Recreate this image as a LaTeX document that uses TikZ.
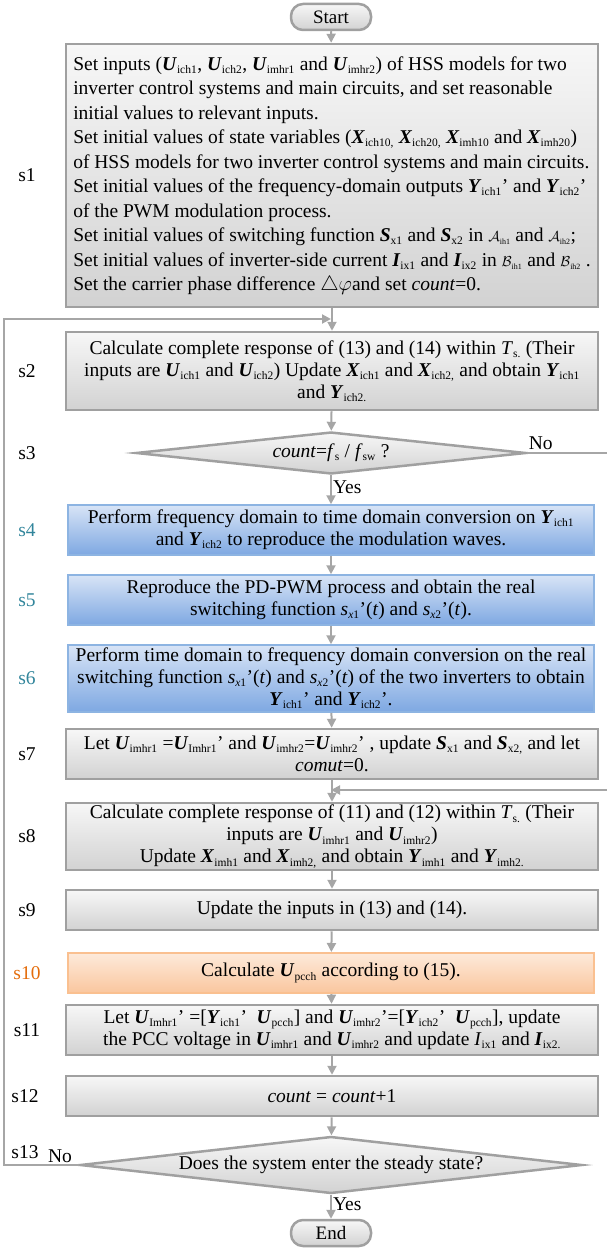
\documentclass[tikz,border=0pt]{standalone}
\usepackage{fontspec}
\setmainfont{Liberation Serif}
\usetikzlibrary{shapes.geometric, arrows.meta, positioning}
\definecolor{cLine}{RGB}{166,166,166}
\definecolor{cBorder}{RGB}{160,160,160}
\definecolor{cTop}{RGB}{247,247,247}
\definecolor{cBot}{RGB}{210,210,210}
\definecolor{cBlueD}{RGB}{141,180,226}
\definecolor{cBlueT}{RGB}{216,228,246}
\definecolor{cBlueB}{RGB}{126,168,226}
\definecolor{cOrD}{RGB}{250,192,144}
\definecolor{cOrT}{RGB}{253,234,218}
\definecolor{cOrB}{RGB}{250,198,158}
\definecolor{cTeal}{RGB}{49,133,155}
\definecolor{cOrange}{RGB}{228,108,10}

% variables with small upright subscripts
\newcommand\sbs[1]{\ensuremath{_{\mbox{\fontsize{11.5}{12}\selectfont #1}}}}
\newcommand\bvar[2]{\textbf{\textit{#1}}\sbs{#2}}
\newcommand\ivar[2]{\textit{#1}\sbs{#2}}
\newcommand\cvar[2]{{\fontsize{14}{14}\selectfont$\mathcal{#1}$}\ensuremath{_{\mbox{\fontsize{8}{8}\selectfont #2}}}}

\tikzset{
  stepbox/.style={draw=cBorder, line width=2.5pt, top color=cTop, bottom color=cBot, minimum width=532pt, inner sep=1pt, align=center, font=\fontsize{19.5}{22}\selectfont},
  bluebox/.style={draw=cBlueD, line width=1.5pt, top color=cBlueT, bottom color=cBlueB, minimum width=526pt, inner sep=1pt, align=center, font=\fontsize{19.5}{22}\selectfont},
  orangebox/.style={draw=cOrD, line width=2pt, top color=cOrT, bottom color=cOrB, minimum width=526pt, inner sep=1pt, align=center, font=\fontsize{19.5}{22}\selectfont},
  terminal/.style={draw=cBorder, line width=2.5pt, rounded corners=12pt, top color=cTop, bottom color=cBot, minimum width=80pt, minimum height=26pt, inner sep=0pt, font=\fontsize{19}{20}\selectfont},
  decision/.style={diamond, aspect=10, draw=cBorder, line width=2.5pt, top color=cTop, bottom color=cBot, inner sep=0pt, text height=9pt, text depth=0pt, font=\fontsize{19.5}{20}\selectfont},
  steplabel/.style={font=\fontsize{19.5}{20}\selectfont},
  flow/.style={draw=cLine, line width=2pt, -{Triangle[length=9pt,width=9pt]}}
}

\begin{document}
\begin{tikzpicture}[x=1pt, y=-1pt]
    \useasboundingbox (0,0) rectangle (607,1249);

    % Terminals
    \node[terminal] (start) at (331,17) {Start};
    \node[terminal] (end) at (331,1233) {End};

    % s1 block
    \node[stepbox, minimum height=263pt, align=left, font=\fontsize{19.5}{24.5}\selectfont] (s1) at (332,175.5) {%
      Set inputs (\bvar{U}{ich1}, \bvar{U}{ich2}, \bvar{U}{imhr1} and \bvar{U}{imhr2}) of HSS models for two\\
      inverter control systems and main circuits, and set reasonable\\
      initial values to relevant inputs.\\
      Set initial values of state variables (\bvar{X}{ich10,} \bvar{X}{ich20,} \bvar{X}{imh10} and \bvar{X}{imh20})\\
      of HSS models for two inverter control systems and main circuits.\\
      Set initial values of the frequency-domain outputs \bvar{Y}{ich1}’ and \bvar{Y}{ich2}’\\
      of the PWM modulation process.\\
      Set initial values of switching function \bvar{S}{x1} and \bvar{S}{x2} in \cvar{A}{ih1} and \cvar{A}{ih2};\\
      Set initial values of inverter-side current \bvar{I}{ix1} and \bvar{I}{ix2} in \cvar{B}{ih1} and \cvar{B}{ih2} .\\
      Set the carrier phase difference $\triangle\varphi$and set \textit{count}=0.};

    % s2 -- s12 blocks
    \node[stepbox, minimum height=78pt] (s2) at (332,371) {Calculate complete response of (13) and (14) within \ivar{T}{s.} (Their\\
      inputs are \bvar{U}{ich1} and \bvar{U}{ich2}) Update \bvar{X}{ich1} and \bvar{X}{ich2,} and obtain \bvar{Y}{ich1}\\
      and \bvar{Y}{ich2.}};
    \node[decision, minimum width=390pt, minimum height=42pt] (s3) at (331,453) {\textit{count}=\ivar{f}{s} / \ivar{f}{sw} ?};
    \node[bluebox, minimum height=50pt] (s4) at (331,530) {Perform frequency domain to time domain conversion on \bvar{Y}{ich1}\\
      and \bvar{Y}{ich2} to reproduce the modulation waves.};
    \node[bluebox, minimum height=50pt] (s5) at (331,600) {Reproduce the PD-PWM process and obtain the real\\
      switching function \textit{s}\sbs{\textit{x}1}’(\textit{t}) and \textit{s}\sbs{\textit{x}2}’(\textit{t}).};
    \node[bluebox, minimum height=67pt] (s6) at (331,678.5) {Perform time domain to frequency domain conversion on the real\\
      switching function \textit{s}\sbs{\textit{x}1}’(\textit{t}) and \textit{s}\sbs{\textit{x}2}’(\textit{t}) of the two inverters to obtain\\
      \bvar{Y}{ich1}’ and \bvar{Y}{ich2}’.};
    \node[stepbox, minimum height=50pt] (s7) at (332,754) {Let \bvar{U}{imhr1} =\bvar{U}{Imhr1}’ and \bvar{U}{imhr2}=\bvar{U}{imhr2}’ , update \bvar{S}{x1} and \bvar{S}{x2,} and let\\
      \textit{comut}=0.};
    \node[stepbox, minimum height=67pt] (s8) at (332,836.5) {Calculate complete response of (11) and (12) within \ivar{T}{s.} (Their\\
      inputs are \bvar{U}{imhr1} and \bvar{U}{imhr2})\\
      Update \bvar{X}{imh1} and \bvar{X}{imh2,} and obtain \bvar{Y}{imh1} and \bvar{Y}{imh2.}};
    \node[stepbox, minimum height=40pt] (s9) at (332,910) {Update the inputs in (13) and (14).};
    \node[orangebox, minimum height=40pt] (s10) at (331,973) {Calculate \bvar{U}{pcch} according to (15).};
    \node[stepbox, minimum height=50pt] (s11) at (332,1030) {Let \bvar{U}{Imhr1}’ =[\bvar{Y}{ich1}’~ \bvar{U}{pcch}] and \bvar{U}{imhr2}’=[\bvar{Y}{ich2}’~ \bvar{U}{pcch}], update\\
      the PCC voltage in \bvar{U}{imhr1} and \bvar{U}{imhr2} and update \ivar{I}{ix1} and \bvar{I}{ix2.}};
    \node[stepbox, minimum height=40pt] (s12) at (332,1096) {\textit{count} = \textit{count}+1};
    \node[decision, minimum width=502pt, minimum height=57pt] (s13) at (331,1165) {Does the system enter the steady state?};

    % Step labels
    \node[steplabel] (l1) at (27,175) {s1};
    \node[steplabel] (l2) at (27,371) {s2};
    \node[steplabel] (l3) at (27,453) {s3};
    \node[steplabel, text=cTeal] (l4) at (27,530) {s4};
    \node[steplabel, text=cTeal] (l5) at (27,600) {s5};
    \node[steplabel, text=cTeal] (l6) at (27,678) {s6};
    \node[steplabel] (l7) at (27,754) {s7};
    \node[steplabel] (l8) at (27,836) {s8};
    \node[steplabel] (l9) at (27,910) {s9};
    \node[steplabel, text=cOrange] (l10) at (27,973) {s10};
    \node[steplabel] (l11) at (27,1030) {s11};
    \node[steplabel] (l12) at (25,1096) {s12};
    \node[steplabel] (l13) at (25,1152) {s13};

    % Joints for the feedback loops
    \coordinate (joinA) at (331,319);
    \coordinate (joinB) at (331,790);

    % Main flow
    \draw[flow] (start) -- (s1);
    \draw[flow] (s1) -- (s2);
    \draw[flow] (s2) -- (s3);
    \draw[flow] (s3) -- node[right, steplabel, pos=0.4, inner sep=1pt] (yes1) {Yes} (s4);
    \draw[flow] (s4) -- (s5);
    \draw[flow] (s5) -- (s6);
    \draw[flow] (s6) -- (s7);
    \draw[flow] (s7) -- (s8);
    \draw[flow] (s8) -- (s9);
    \draw[flow] (s9) -- (s10);
    \draw[flow] (s10) -- (s11);
    \draw[flow] (s11) -- (s12);
    \draw[flow] (s12) -- (s13);
    \draw[flow] (s13) -- node[right, steplabel, pos=0.4, inner sep=1pt] (yes2) {Yes} (end);

    % Feedback loops
    \draw[flow] (s3.east) -- node[above, steplabel, pos=0.16, inner sep=2pt] (no1) {No} (612,453) -- (612,790) -- (joinB);
    \draw[flow] (s13.west) -- node[above, steplabel, pos=0.25, inner sep=1pt] (no2) {No} (4,1165) -- (4,319) -- (joinA);
\end{tikzpicture}
\end{document}
